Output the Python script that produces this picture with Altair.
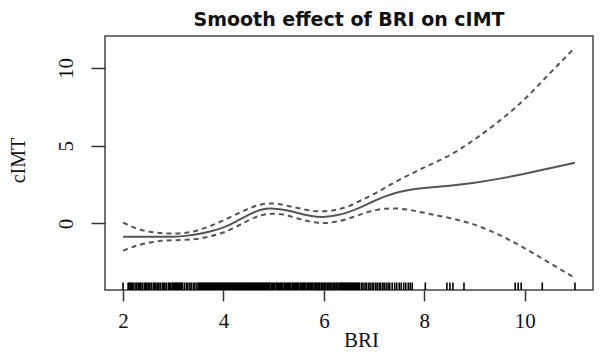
import altair as alt
import pandas as pd

# ---- data ----
bri = [2.0, 2.25, 2.5, 2.75, 3.0, 3.25, 3.5, 3.75, 4.0, 4.25, 4.5, 4.75, 5.0, 5.25,
       5.5, 5.75, 6.0, 6.25, 6.5, 6.75, 7.0, 7.25, 7.5, 7.75, 8.0, 8.5, 9.0, 9.5,
       10.0, 10.5, 11.0]
fit = [-0.85, -0.85, -0.86, -0.86, -0.85, -0.80, -0.68, -0.50, -0.25, 0.12, 0.55,
       0.88, 0.95, 0.85, 0.66, 0.48, 0.42, 0.52, 0.74, 1.06, 1.44, 1.77, 2.02, 2.18,
       2.28, 2.43, 2.62, 2.88, 3.20, 3.55, 3.90]
upper = [0.05, -0.30, -0.52, -0.62, -0.65, -0.60, -0.43, -0.15, 0.20, 0.58, 0.95,
         1.22, 1.28, 1.15, 0.98, 0.82, 0.78, 0.88, 1.12, 1.50, 1.90, 2.35, 2.80, 3.20,
         3.60, 4.38, 5.40, 6.60, 8.00, 9.65, 11.30]
lower = [-1.75, -1.45, -1.25, -1.12, -1.08, -1.05, -0.98, -0.82, -0.58, -0.22, 0.20,
         0.52, 0.62, 0.52, 0.30, 0.10, 0.02, 0.12, 0.32, 0.60, 0.84, 0.95, 0.95, 0.84,
         0.68, 0.35, -0.08, -0.75, -1.60, -2.55, -3.50]

rug = [
    2.00,
    2.10, 2.12, 2.14, 2.16, 2.18, 2.20,
    2.24, 2.27, 2.30, 2.33, 2.35, 2.38, 2.42, 2.45, 2.47, 2.50, 2.53, 2.56, 2.60,
    2.62, 2.65, 2.68, 2.71, 2.74, 2.78, 2.80, 2.83, 2.86, 2.90, 2.92, 2.95, 2.98,
    3.00, 3.02, 3.04, 3.06, 3.08, 3.10, 3.12, 3.14, 3.16, 3.18,
    3.22, 3.26, 3.29, 3.33, 3.36, 3.40, 3.43, 3.47,
    3.50, 3.52, 3.54, 3.56, 3.58, 3.60, 3.62, 3.64, 3.66, 3.68,
    3.70, 3.72, 3.74, 3.76, 3.78, 3.80, 3.82, 3.84, 3.86, 3.88,
    3.90, 3.92, 3.94, 3.96, 3.98, 4.00, 4.02, 4.04, 4.06, 4.08,
    4.10, 4.12, 4.14, 4.16, 4.18, 4.20, 4.22, 4.24, 4.26, 4.28,
    4.30, 4.32, 4.34, 4.36, 4.38, 4.40, 4.42, 4.44, 4.46, 4.48,
    4.50, 4.52, 4.54, 4.56, 4.58, 4.60, 4.62, 4.64, 4.66, 4.68,
    4.70, 4.72, 4.74, 4.76, 4.78, 4.80, 4.82, 4.84, 4.86, 4.88,
    4.90, 4.92, 4.95, 4.97, 5.00, 5.02, 5.05, 5.07, 5.09, 5.12,
    5.14, 5.16, 5.18, 5.21, 5.23, 5.25, 5.28, 5.30, 5.32, 5.34,
    5.37, 5.39, 5.41, 5.44, 5.46, 5.48, 5.50, 5.53, 5.55, 5.58,
    5.60, 5.62, 5.64, 5.67, 5.69, 5.72, 5.74, 5.76, 5.78, 5.81,
    5.83, 5.85, 5.88, 5.90, 5.92, 5.95, 5.97, 6.00, 6.02, 6.04,
    6.07, 6.09, 6.12, 6.14, 6.16, 6.19, 6.21, 6.24, 6.26, 6.28,
    6.31, 6.33, 6.35, 6.37, 6.39, 6.41, 6.43, 6.45, 6.47, 6.49,
    6.51, 6.53, 6.55, 6.57, 6.59, 6.61, 6.63, 6.65, 6.67, 6.69, 6.71,
    6.75, 6.78, 6.82, 6.85, 6.89, 6.92, 6.96, 6.99, 7.03, 7.06, 7.10, 7.13,
    7.17, 7.20, 7.24, 7.28, 7.31,
    7.36, 7.41, 7.45, 7.50, 7.54, 7.59, 7.63, 7.68, 7.72, 7.76,
    8.02, 8.45, 8.51, 8.57, 8.79, 9.81, 9.87, 9.93, 10.35, 11.00,
]

x_ticks = [2, 4, 6, 8, 10]
y_ticks = [0, 5, 10]
title_text = "Smooth effect of BRI on cIMT"

W, H = 488, 254
SERIF = "Liberation Serif"
LINE_COLOR = "#555555"

curve = pd.DataFrame({"BRI": bri, "fit": fit, "upper": upper, "lower": lower})
rug_df = pd.DataFrame({"BRI": rug})
title_df = pd.DataFrame({"t": [title_text]})

xscale = alt.Scale(domain=[1.64, 11.36], nice=False, zero=False)
yscale = alt.Scale(domain=[-4.28, 12.05], nice=False, zero=False)

xaxis = alt.Axis(
    values=x_ticks, title="BRI", grid=False, domain=False,
    tickSize=11, tickWidth=1.5, tickColor="#333333",
    labelFont=SERIF, labelFontSize=21, labelColor="#111111",
    labelBaseline="alphabetic", labelPadding=26, labelFlush=False,
    titleFont=SERIF, titleFontSize=21, titleFontWeight="normal", titleColor="#111111",
    titleBaseline="alphabetic", titleAlign="center", titleX=256, titleY=56,
)
yaxis = alt.Axis(
    values=y_ticks, title="cIMT", grid=False, domain=False,
    tickSize=14, tickWidth=1.5, tickColor="#333333",
    labelFont=SERIF, labelFontSize=21, labelColor="#111111",
    labelAngle=270, labelAlign="center", labelBaseline="alphabetic",
    labelPadding=19, labelFlush=False,
    titleFont=SERIF, titleFontSize=20, titleFontWeight="normal", titleColor="#111111",
    titleAngle=270, titleBaseline="alphabetic", titleAlign="center",
    titleX=-81, titleY=124,
)

base = alt.Chart(curve)

fit_line = base.mark_line(color=LINE_COLOR, strokeWidth=2, interpolate="natural").encode(
    x=alt.X("BRI:Q", scale=xscale, axis=xaxis),
    y=alt.Y("fit:Q", scale=yscale, axis=yaxis),
)
up_line = base.mark_line(color=LINE_COLOR, strokeWidth=2, strokeDash=[5, 4],
                         interpolate="natural").encode(
    x=alt.X("BRI:Q", scale=xscale, axis=xaxis),
    y=alt.Y("upper:Q", scale=yscale, axis=yaxis),
)
lo_line = base.mark_line(color=LINE_COLOR, strokeWidth=2, strokeDash=[5, 4],
                         interpolate="natural").encode(
    x=alt.X("BRI:Q", scale=xscale, axis=xaxis),
    y=alt.Y("lower:Q", scale=yscale, axis=yaxis),
)

rug_marks = alt.Chart(rug_df).mark_rule(color="#000000", strokeWidth=1.6).encode(
    x=alt.X("BRI:Q", scale=xscale, axis=xaxis),
    y=alt.value(H - 7.5),
    y2=alt.value(H),
)

title_mark = alt.Chart(title_df).mark_text(
    font="DejaVu Sans", fontWeight="bold", fontSize=19, color="#111111",
    align="center", baseline="alphabetic",
).encode(
    x=alt.value(W / 2),
    y=alt.value(-10),
    text="t:N",
)

chart = alt.layer(rug_marks, fit_line, up_line, lo_line, title_mark).properties(
    width=W, height=H,
    autosize=alt.AutoSizeParams(type="none"),
    padding={"left": 97, "top": 28, "right": 5, "bottom": 63},
    background="white",
).configure_view(stroke="#444444", strokeWidth=1.5)

chart.save("out.html", embed_options={"renderer": "svg", "actions": False})
